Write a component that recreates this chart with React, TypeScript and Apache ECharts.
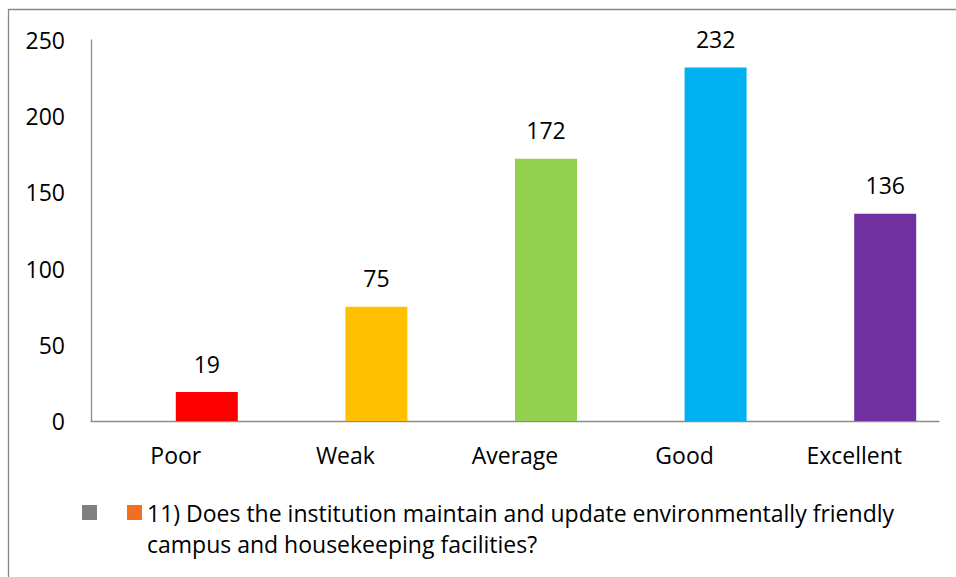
import React, { useEffect, useRef } from "react";
import * as echarts from "echarts";

const categories = ["Poor", "Weak", "Average", "Good", "Excellent"];
const values = [19, 75, 172, 232, 136];
const emptyValues: (number | null)[] = [null, null, null, null, null];
const barColors = ["#FF0000", "#FFC000", "#92D050", "#00B0F0", "#7030A0"];
const seriesName =
  "11) Does the institution maintain and update environmentally friendly\ncampus and housekeeping facilities?";
const yTicks = { min: 0, max: 250, interval: 50 };

const FONT = "'Open Sans', sans-serif";
const FS = 23;

export default function App() {
  const ref = useRef<HTMLDivElement>(null);
  useEffect(() => {
    if (!ref.current) return;
    const chart = echarts.init(ref.current, undefined, { renderer: "svg" });
    chart.setOption({
      animation: false,
      textStyle: { fontFamily: FONT },
      graphic: [
        {
          type: "rect",
          shape: { x: 8.5, y: 9.5, width: 1200, height: 1200 },
          style: { fill: "none", stroke: "#878787", lineWidth: 1.3 },
          silent: true,
        },
      ],
      grid: { left: 91, right: 17, top: 40, bottom: 156, containLabel: false },
      legend: {
        left: 82,
        top: 466,
        padding: 0,
        icon: "rect",
        itemWidth: 15,
        itemHeight: 15,
        itemGap: 19,
        align: "left",
        formatter: (name: string) => (name.indexOf("\n") >= 0 ? "\n" + name : name),
        textStyle: {
          fontFamily: FONT,
          fontSize: FS,
          color: "#000",
          lineHeight: 31,
        },
        data: [
          { name: " ", itemStyle: { color: "#7F7F84" } },
          { name: seriesName, itemStyle: { color: "#F26F21" } },
        ],
      },
      xAxis: {
        type: "category",
        data: categories,
        axisLine: { lineStyle: { color: "#8C8C8C", width: 1.3 } },
        axisTick: { show: false },
        axisLabel: { color: "#000", fontSize: FS, fontFamily: FONT, margin: 22 },
      },
      yAxis: {
        type: "value",
        min: yTicks.min,
        max: yTicks.max,
        interval: yTicks.interval,
        axisLine: { show: true, lineStyle: { color: "#8C8C8C", width: 1.3 } },
        axisTick: { show: false },
        splitLine: { show: false },
        axisLabel: {
          color: "#000",
          fontSize: FS,
          fontFamily: FONT,
          margin: 26,
          padding: [0, 0, 4, 0],
        },
      },
      series: [
        {
          name: " ",
          type: "bar",
          data: emptyValues,
          barWidth: 62,
          barGap: "0%",
          itemStyle: { color: "#7F7F84" },
        },
        {
          name: seriesName,
          type: "bar",
          barWidth: 62,
          barGap: "0%",
          data: values.map((v, i) => ({ value: v, itemStyle: { color: barColors[i] } })),
          itemStyle: { color: "#F26F21" },
          label: {
            show: true,
            position: "top",
            distance: 17,
            color: "#000",
            fontSize: FS,
            fontFamily: FONT,
          },
        },
      ],
    });
    return () => chart.dispose();
  }, []);
  return (
    <div
      ref={ref}
      style={{ position: "fixed", left: 0, top: 0, width: 956, height: 577, background: "#fff" }}
    />
  );
}
